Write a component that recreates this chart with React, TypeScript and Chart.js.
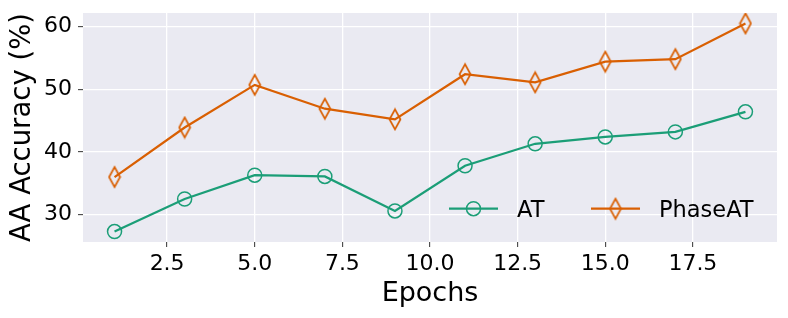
import React, { useEffect, useRef } from "react";
import { Chart, registerables } from "chart.js";

Chart.register(...registerables);

const epochs = [1, 3, 5, 7, 9, 11, 13, 15, 17, 19];
const atValues = [27.3, 32.5, 36.3, 36.1, 30.6, 37.8, 41.3, 42.4, 43.2, 46.4];
const phaseAtValues = [36.0, 43.9, 50.7, 46.9, 45.2, 52.4, 51.1, 54.4, 54.8, 60.5];
const xTickValues = [2.5, 5, 7.5, 10, 12.5, 15, 17.5];
const yTickValues = [30, 40, 50, 60];
const seriesLabels = ["AT", "PhaseAT"];
const seriesColors = ["#1b9e77", "#d95f02"];
const xTitle = "Epochs";
const yTitle = "AA Accuracy (%)";

const FONT = "'DejaVu Sans', sans-serif";

function makeDiamond(color: string): HTMLCanvasElement {
  const c = document.createElement("canvas");
  c.width = 14;
  c.height = 24;
  const ctx = c.getContext("2d")!;
  ctx.strokeStyle = color;
  ctx.lineWidth = 1.7;
  ctx.lineJoin = "miter";
  ctx.beginPath();
  ctx.moveTo(7, 2);
  ctx.lineTo(12.5, 12);
  ctx.lineTo(7, 22);
  ctx.lineTo(1.5, 12);
  ctx.closePath();
  ctx.stroke();
  return c;
}

export default function App() {
  const ref = useRef<HTMLCanvasElement | null>(null);

  useEffect(() => {
    if (!ref.current) return;
    const diamond = makeDiamond(seriesColors[1]);
    const markers: any[] = ["circle", diamond];

    const xSpan = epochs[epochs.length - 1] - epochs[0];
    const xMin = epochs[0] - 0.05 * xSpan;
    const xMax = epochs[epochs.length - 1] + 0.05 * xSpan;
    const allY = [...atValues, ...phaseAtValues];
    const yLo = Math.min(...allY);
    const yHi = Math.max(...allY);
    const ySpan = yHi - yLo;
    const yMin = yLo - 0.05 * ySpan;
    const yMax = yHi + 0.05 * ySpan;

    const bgPlugin = {
      id: "bg",
      beforeDraw(chart: any) {
        const { ctx, chartArea } = chart;
        ctx.save();
        ctx.fillStyle = "#eaeaf2";
        ctx.fillRect(chartArea.left, chartArea.top, chartArea.right - chartArea.left, chartArea.bottom - chartArea.top);
        ctx.restore();
      },
    };

    const legendPlugin = {
      id: "customLegend",
      afterDraw(chart: any) {
        const { ctx, chartArea } = chart;
        const baseY = chartArea.bottom - 24.7;
        const lineY = chartArea.bottom - 33.3;
        const starts = [chartArea.right - 328, chartArea.right - 186];
        ctx.save();
        ctx.font = `22.5px ${FONT}`;
        ctx.textBaseline = "alphabetic";
        ctx.textAlign = "left";
        seriesLabels.forEach((label, i) => {
          const x0 = starts[i];
          ctx.strokeStyle = seriesColors[i];
          ctx.lineWidth = 2.2;
          ctx.beginPath();
          ctx.moveTo(x0, lineY);
          ctx.lineTo(x0 + 49, lineY);
          ctx.stroke();
          const mx = x0 + 24.5;
          if (i === 0) {
            ctx.lineWidth = 1.5;
            ctx.beginPath();
            ctx.arc(mx, lineY, 7, 0, Math.PI * 2);
            ctx.stroke();
          } else {
            ctx.drawImage(diamond, mx - diamond.width / 2, lineY - diamond.height / 2);
          }
          ctx.fillStyle = "#000";
          ctx.fillText(label, x0 + 68, baseY);
        });
        ctx.restore();
      },
    };

    const chart = new Chart(ref.current, {
      type: "line",
      data: {
        datasets: [atValues, phaseAtValues].map((vals, i) => ({
          label: seriesLabels[i],
          data: epochs.map((e, j) => ({ x: e, y: vals[j] })),
          borderColor: seriesColors[i],
          borderWidth: 2.2,
          pointStyle: markers[i],
          pointRadius: 7,
          pointHoverRadius: 7,
          pointBorderWidth: 1.5,
          pointBorderColor: seriesColors[i],
          pointBackgroundColor: "rgba(0,0,0,0)",
          tension: 0,
          fill: false,
        })),
      },
      options: {
        animation: false,
        responsive: false,
        maintainAspectRatio: false,
        layout: { padding: { top: 13, right: 11, left: 0, bottom: 0 } },
        plugins: {
          legend: { display: false },
          tooltip: { enabled: false },
        },
        scales: {
          x: {
            type: "linear",
            min: xMin,
            max: xMax,
            afterBuildTicks: (s: any) => {
              s.ticks = xTickValues.map((v) => ({ value: v }));
            },
            afterFit: (s: any) => {
              s.height = 76;
              s.paddingLeft = 0;
              s.paddingRight = 0;
            },
            ticks: {
              font: { family: FONT, size: 22 },
              color: "#000",
              padding: 4,
              maxRotation: 0,
              autoSkip: false,
              callback: (v: any) => Number(v).toFixed(1),
            },
            grid: {
              color: "#ffffff",
              lineWidth: 1.3,
              tickColor: "#333333",
              tickWidth: 1,
              tickLength: 5,
            },
            border: { display: false },
            title: {
              display: true,
              text: xTitle,
              color: "#000",
              font: { family: FONT, size: 27 },
              padding: { top: 0, bottom: 8 },
            },
          },
          y: {
            type: "linear",
            min: yMin,
            max: yMax,
            afterBuildTicks: (s: any) => {
              s.ticks = yTickValues.map((v) => ({ value: v }));
            },
            afterFit: (s: any) => {
              s.width = 83;
              s.paddingTop = 0;
              s.paddingBottom = 0;
            },
            ticks: {
              font: { family: FONT, size: 22 },
              color: "#000",
              padding: 6,
              autoSkip: false,
              callback: (v: any) => String(v),
            },
            grid: {
              color: "#ffffff",
              lineWidth: 1.3,
              tickColor: "#333333",
              tickWidth: 1,
              tickLength: 5,
            },
            border: { display: false },
            title: {
              display: true,
              text: yTitle,
              color: "#000",
              font: { family: FONT, size: 27.5 },
              padding: { top: 6, bottom: 0 },
            },
          },
        },
      },
      plugins: [bgPlugin, legendPlugin],
    });

    return () => chart.destroy();
  }, []);

  return (
    <div style={{ position: "absolute", left: 0, top: 0, width: 788, height: 318 }}>
      <canvas ref={ref} width={788} height={318} style={{ width: 788, height: 318 }} />
    </div>
  );
}
